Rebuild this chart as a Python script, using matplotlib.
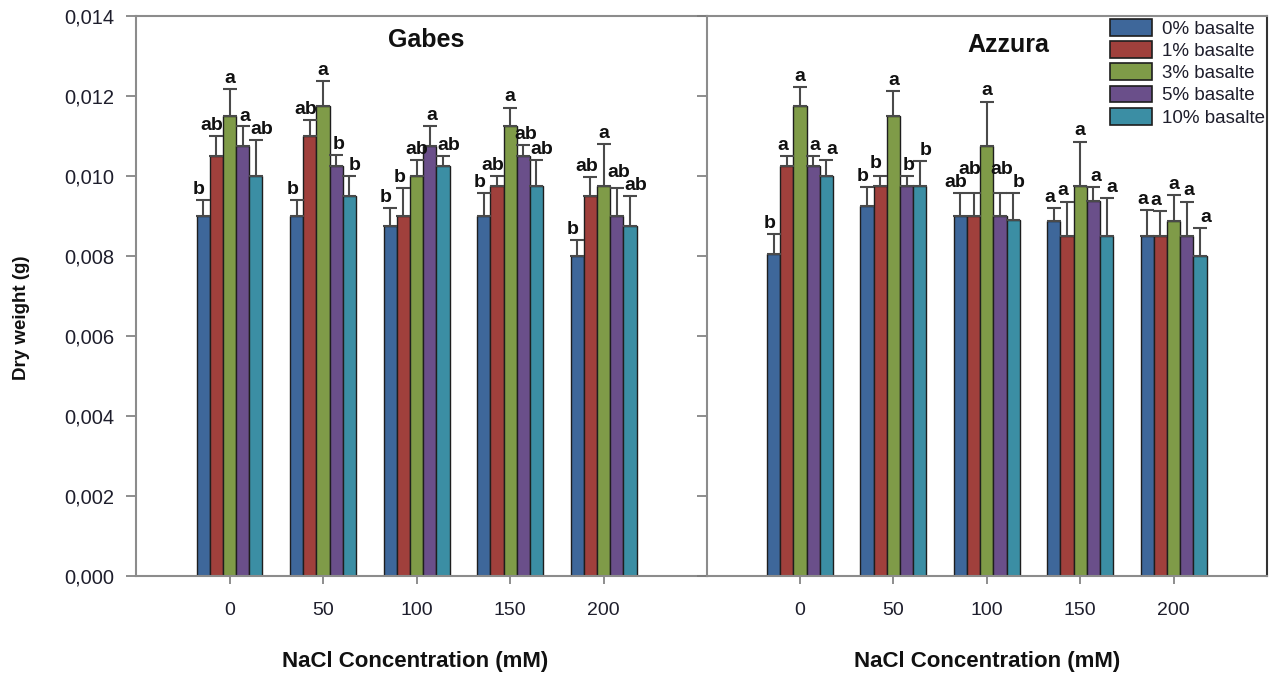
import matplotlib
matplotlib.use('Agg')
import matplotlib.pyplot as plt
import numpy as np
from matplotlib.patches import Patch

plt.rcParams['font.family'] = ['Liberation Sans', 'DejaVu Sans']

# ---------------- data ----------------
concentrations = ['0', '50', '100', '150', '200']
series_labels = ['0% basalte', '1% basalte', '3% basalte', '5% basalte', '10% basalte']
colors = ['#3e679a', '#a0403c', '#7f9b48', '#6a4f8a', '#3b8ea4']

ytick_vals = [0.000, 0.002, 0.004, 0.006, 0.008, 0.010, 0.012, 0.014]
ytick_labels = ['0,000', '0,002', '0,004', '0,006', '0,008', '0,010', '0,012', '0,014']

# Gabes: mean per basalt level across NaCl 0,50,100,150,200
gabes_0 = [0.0090, 0.0090, 0.00875, 0.0090, 0.0080]
gabes_1 = [0.0105, 0.0110, 0.0090, 0.00975, 0.0095]
gabes_3 = [0.0115, 0.01175, 0.0100, 0.01125, 0.00975]
gabes_5 = [0.01075, 0.01025, 0.01075, 0.0105, 0.0090]
gabes_10 = [0.0100, 0.0095, 0.01025, 0.00975, 0.00875]
# Gabes: standard errors
gabes_0_err = [0.0004, 0.0004, 0.00045, 0.00058, 0.0004]
gabes_1_err = [0.0005, 0.0004, 0.0007, 0.00025, 0.00048]
gabes_3_err = [0.00067, 0.00063, 0.0004, 0.00046, 0.00104]
gabes_5_err = [0.0005, 0.00027, 0.0005, 0.00028, 0.0007]
gabes_10_err = [0.0009, 0.0005, 0.00025, 0.00065, 0.00075]
# Gabes: significance letters
gabes_0_let = ['b', 'b', 'b', 'b', 'b']
gabes_1_let = ['ab', 'ab', 'b', 'ab', 'ab']
gabes_3_let = ['a', 'a', 'ab', 'a', 'a']
gabes_5_let = ['a', 'b', 'a', 'ab', 'ab']
gabes_10_let = ['ab', 'b', 'ab', 'ab', 'ab']

# Azzura
azzura_0 = [0.00805, 0.00925, 0.0090, 0.00888, 0.0085]
azzura_1 = [0.01025, 0.00975, 0.0090, 0.0085, 0.0085]
azzura_3 = [0.01175, 0.0115, 0.01075, 0.00975, 0.00888]
azzura_5 = [0.01025, 0.00975, 0.0090, 0.00938, 0.0085]
azzura_10 = [0.0100, 0.00975, 0.0089, 0.0085, 0.0080]
azzura_0_err = [0.0005, 0.00048, 0.00058, 0.00031, 0.00065]
azzura_1_err = [0.00025, 0.00025, 0.00058, 0.00086, 0.00063]
azzura_3_err = [0.00047, 0.00063, 0.00111, 0.00111, 0.00065]
azzura_5_err = [0.00025, 0.00025, 0.00058, 0.00035, 0.00086]
azzura_10_err = [0.0004, 0.00063, 0.00068, 0.00094, 0.00069]
azzura_0_let = ['b', 'b', 'ab', 'a', 'a']
azzura_1_let = ['a', 'b', 'ab', 'a', 'a']
azzura_3_let = ['a', 'a', 'a', 'a', 'a']
azzura_5_let = ['a', 'b', 'ab', 'a', 'a']
azzura_10_let = ['a', 'b', 'b', 'a', 'a']

panels = [
    ('Gabes', [gabes_0, gabes_1, gabes_3, gabes_5, gabes_10],
     [gabes_0_err, gabes_1_err, gabes_3_err, gabes_5_err, gabes_10_err],
     [gabes_0_let, gabes_1_let, gabes_3_let, gabes_5_let, gabes_10_let]),
    ('Azzura', [azzura_0, azzura_1, azzura_3, azzura_5, azzura_10],
     [azzura_0_err, azzura_1_err, azzura_3_err, azzura_5_err, azzura_10_err],
     [azzura_0_let, azzura_1_let, azzura_3_let, azzura_5_let, azzura_10_let]),
]

# ---------------- figure ----------------
W, H = 1276, 677
fig = plt.figure(figsize=(W / 100, H / 100), dpi=100)

def fx(px):
    return px / W

def fy(py):
    return 1 - py / H

bottom = fy(576)
height = (576 - 16) / H
ax1 = fig.add_axes([fx(136), bottom, fx(706.5) - fx(136), height])
ax2 = fig.add_axes([fx(706.5), bottom, fx(1267) - fx(706.5), height])

spine_col = '#8c8c8c'
tick_col = '#7a7a7a'
text_col = '#1e1e2c'
bar_w = 0.141
letter_dx = [-3, -3, 0, 1.5, 4]  # points

groups = []  # annotations per group, with cap heights
for ax, (name, means, errs, lets) in zip([ax1, ax2], panels):
    x = np.arange(len(concentrations))
    panel_groups = [[] for _ in concentrations]
    for i in range(len(series_labels)):
        off = (i - 2) * bar_w
        m = np.array(means[i])
        e = np.array(errs[i])
        ax.bar(x + off, m, bar_w, color=colors[i], edgecolor='#1e1e1e',
               linewidth=1.0, zorder=2)
        ax.errorbar(x + off, m, yerr=[np.zeros_like(e), e], fmt='none',
                    ecolor='#4a4a4a', elinewidth=1.5, capsize=5,
                    capthick=1.5, zorder=3)
        for j in range(len(concentrations)):
            an = ax.annotate(lets[i][j], (x[j] + off, m[j] + e[j]),
                             xytext=(letter_dx[i], 4.5), textcoords='offset points',
                             ha='center', va='baseline', fontsize=14,
                             fontweight='bold', color='#111111', zorder=4)
            panel_groups[j].append((an, m[j] + e[j], lets[i][j]))
    groups.extend(panel_groups)
    ax.set_ylim(0, 0.014)
    ax.set_xticks(x)
    ax.set_xticklabels(concentrations)
    ax.set_yticks(ytick_vals)
    for s in ax.spines.values():
        s.set_color(spine_col)
        s.set_linewidth(1.5)
    ax.tick_params(axis='x', direction='out', length=6, width=1.2,
                   color=tick_col, labelsize=14, labelcolor=text_col, pad=13)
    ax.tick_params(axis='y', direction='out', length=7.5, width=1.2,
                   color=tick_col, labelsize=14.5, labelcolor=text_col, pad=8,
                   right=False)

ax1.set_xlim(-1.0, 5.1)
ax2.set_xlim(-1.0, 5.0)
ax1.set_yticklabels(ytick_labels)
ax2.tick_params(axis='y', labelleft=False, length=7)
ax2.spines['right'].set_color('#333333')
ax1.spines['right'].set_visible(False)

# stagger crowded significance letters: raise the one on the higher cap,
# or the longer label when caps are level
fig.canvas.draw()
renderer = fig.canvas.get_renderer()
for grp in groups:
    for k in range(1, len(grp)):
        a_prev, cap_prev, t_prev = grp[k - 1]
        a_cur, cap_cur, t_cur = grp[k]
        b1 = a_prev.get_window_extent(renderer)
        b2 = a_cur.get_window_extent(renderer)
        h_gap = max(b1.x0, b2.x0) - min(b1.x1, b2.x1)
        v_ovl = min(b1.y1, b2.y1) - max(b1.y0, b2.y0)
        if h_gap < 2 and v_ovl > 2:
            if abs(cap_prev - cap_cur) > 0.0001:
                target = a_prev if cap_prev > cap_cur else a_cur
            elif len(t_prev) != len(t_cur):
                target = a_prev if len(t_prev) > len(t_cur) else a_cur
            else:
                target = a_cur
            other = a_cur if target is a_prev else a_prev
            bo = other.get_window_extent(renderer)
            bt = target.get_window_extent(renderer)
            shift_px = bo.y1 - bt.y0 - 4
            dx, dy = target.xyann
            target.xyann = (dx, dy + shift_px * 72 / fig.dpi)

# titles
fig.text(fx(426), fy(47), 'Gabes', ha='center', va='baseline', fontsize=18,
         fontweight='bold', color='#111111')
fig.text(fx(1008), fy(52), 'Azzura', ha='center', va='baseline', fontsize=18,
         fontweight='bold', color='#111111')

# axis labels
fig.text(fx(22), fy(318), 'Dry weight (g)', rotation=90, ha='center',
         va='center', fontsize=13.5, fontweight='bold', color='#111111')
fig.text(fx(415), fy(662), 'NaCl Concentration (mM)', ha='center', va='center',
         fontsize=16, fontweight='bold', color='#111111')
fig.text(fx(987), fy(662), 'NaCl Concentration (mM)', ha='center', va='center',
         fontsize=16, fontweight='bold', color='#111111')

# legend
handles = [Patch(facecolor=c, edgecolor='#1e1e1e', linewidth=1.2, label=l)
           for c, l in zip(colors, series_labels)]
fig.legend(handles=handles, loc='upper left',
           bbox_to_anchor=(fx(1110), fy(19)), bbox_transform=fig.transFigure,
           frameon=False, fontsize=13.5, handlelength=2.25, handleheight=1.0,
           labelspacing=0.18, handletextpad=0.5, borderpad=0,
           borderaxespad=0, labelcolor=text_col)

fig.savefig('out.png', dpi=100)
